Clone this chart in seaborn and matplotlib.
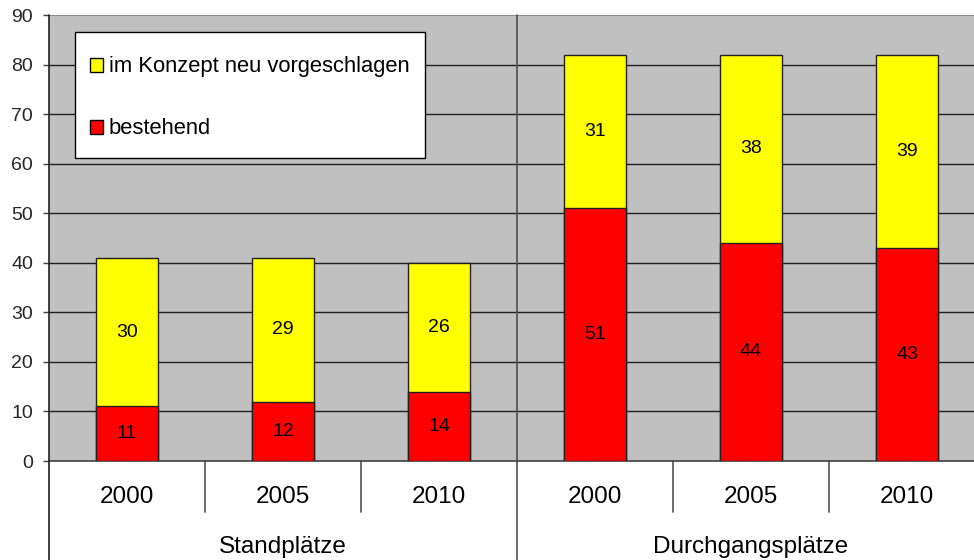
import matplotlib
matplotlib.use("Agg")
import matplotlib.pyplot as plt
import matplotlib.transforms as mtransforms
from matplotlib.patches import Rectangle
import seaborn as sns
import pandas as pd

# chart values
groups = ["Standplätze", "Durchgangsplätze"]
years = ["2000", "2005", "2010"]
bestehend = [11, 12, 14, 51, 44, 43]
neu = [30, 29, 26, 31, 38, 39]
legend_labels = ["im Konzept neu vorgeschlagen", "bestehend"]
legend_colors = ["#FFFF00", "#FF0000"]

sns.set_theme(style="white")
plt.rcParams["font.family"] = ["Liberation Sans", "DejaVu Sans"]

slots = [f"{g} {y}" for g in groups for y in years]
df = pd.DataFrame({
    "slot": slots,
    "bestehend": bestehend,
    "neu": neu,
})
df["total"] = df["bestehend"] + df["neu"]

W, H = 974, 560
# the plot area runs a little past the right edge of the picture
fig = plt.figure(figsize=(W / 100, H / 100), dpi=100)
ax = fig.add_axes([49 / W, 99 / H, 936 / W, 446 / H])
ax.set_facecolor("#C0C0C0")

# horizontal grid
for v in range(10, 90, 10):
    ax.axhline(v, color="#202020", lw=1, zorder=0)
ax.axhline(90, color="#808080", lw=1.2, zorder=0)

sns.barplot(data=df, x="slot", y="total", order=slots, color=legend_colors[0],
            width=0.40, edgecolor="#202020", linewidth=1, saturation=1,
            ax=ax, zorder=2)
sns.barplot(data=df, x="slot", y="bestehend", order=slots,
            color=legend_colors[1], width=0.40, edgecolor="#202020",
            linewidth=1, saturation=1, ax=ax, zorder=3)

# value labels
for i, row in df.iterrows():
    ax.text(i, row["bestehend"] / 2, str(row["bestehend"]), ha="center",
            va="center", fontsize=14, color="black", zorder=4)
    ax.text(i, row["bestehend"] + row["neu"] / 2, str(row["neu"]),
            ha="center", va="center", fontsize=14, color="black", zorder=4)

ax.set_xlim(-0.5, 5.5)
ax.set_ylim(0, 90)
ax.set_yticks(range(0, 100, 10))
ax.tick_params(axis="y", labelsize=14, length=4.5, width=1, color="#404040",
               left=True, pad=7)
ax.set_xticks([])
ax.set_xlabel("")
ax.set_ylabel("")
for side in ["top", "right", "left"]:
    ax.spines[side].set_visible(False)
ax.spines["bottom"].set_color("#404040")
ax.spines["bottom"].set_linewidth(1.2)

# two-level x axis
trans = mtransforms.blended_transform_factory(ax.transData, ax.transAxes)
px = 1 / 446
for i, s in enumerate(slots):
    ax.text(i, -36 * px, s.split()[-1], transform=trans, ha="center",
            va="center", fontsize=17.5, color="black")
for gi, g in enumerate(groups):
    ax.text(gi * 3 + 1, -86 * px, g, transform=trans, ha="center",
            va="center", fontsize=17.5, color="black")
for xb in [0.5, 1.5, 3.5, 4.5]:
    ax.plot([xb, xb], [0, -51 * px], transform=trans, color="#505050",
            lw=1.2, clip_on=False)
ax.plot([2.5, 2.5], [1, -99 * px], transform=trans, color="#505050",
        lw=1.2, clip_on=False, zorder=1)
ax.plot([-0.5, -0.5], [1, -99 * px], transform=trans, color="#202020",
        lw=1.2, clip_on=False, zorder=5)

# legend box, placed in picture pixels (y measured from the top)
def fx(x):
    return x / W

def fy(y):
    return 1 - y / H

ax.add_patch(Rectangle((fx(75), fy(158)), fx(425) - fx(75), fy(32) - fy(158),
                       transform=fig.transFigure, facecolor="white",
                       edgecolor="black", lw=1, zorder=6, clip_on=False))
for k, (lab, col) in enumerate(zip(legend_labels, legend_colors)):
    base = 72 + k * 62
    ax.add_patch(Rectangle((fx(89.5), fy(base)), fx(13), fy(0) - fy(13.5),
                           transform=fig.transFigure, facecolor=col,
                           edgecolor="black", lw=1, zorder=7, clip_on=False))
    ax.text(fx(109), fy(base), lab, transform=fig.transFigure, ha="left",
            va="baseline", fontsize=15.8, color="black", zorder=7)

fig.savefig("out.png", dpi=100)
